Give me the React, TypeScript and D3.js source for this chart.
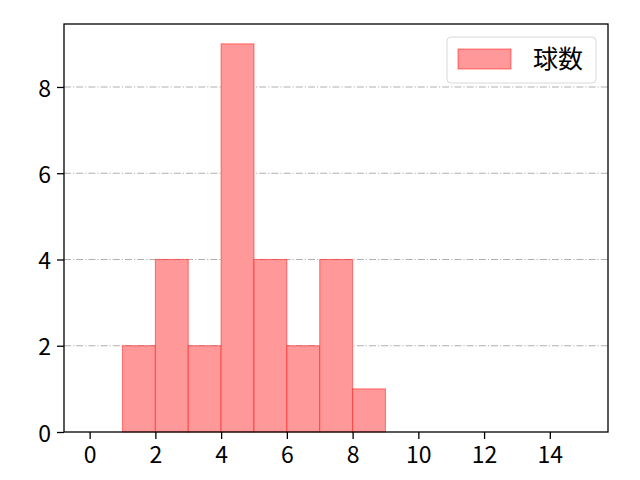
import { useEffect, useRef } from 'react';
import * as d3 from 'd3';

// histogram bins (left edge, right edge) and counts
const binStarts = [1, 2, 3, 4, 5, 6, 7, 8];
const binEnds   = [2, 3, 4, 5, 6, 7, 8, 9];
const counts    = [2, 4, 2, 9, 4, 2, 4, 1];
const xTicks = [0, 2, 4, 6, 8, 10, 12, 14];
const yTicks = [0, 2, 4, 6, 8];
const seriesName = '球数';

const FONT = '"Noto Sans CJK JP", "DejaVu Sans", sans-serif';

export default function App() {
  const svgRef = useRef<SVGSVGElement>(null);

  useEffect(() => {
    if (!svgRef.current) return;
    const svg = d3.select(svgRef.current);
    svg.selectAll('*').remove();

    const W = 640, H = 480;
    const margin = { top: 24, right: 32, bottom: 48, left: 64 };
    const width = W - margin.left - margin.right;
    const height = H - margin.top - margin.bottom;

    const g = svg.append('g').attr('transform', `translate(${margin.left},${margin.top})`);

    const x = d3.scaleLinear().domain([-0.78, 15.77]).range([0, width]);
    const y = d3.scaleLinear().domain([0, 9.46]).range([height, 0]);

    // ── Grid ────────────────────────────────────────────────
    g.append('g')
      .selectAll('line')
      .data(yTicks.filter(t => t > 0))
      .join('line')
      .attr('x1', 0).attr('x2', width)
      .attr('y1', d => y(d)).attr('y2', d => y(d))
      .attr('stroke', '#b0b0b0').attr('stroke-width', 1.1)
      .attr('stroke-dasharray', '7,2,1.2,2');

    // ── Bars ────────────────────────────────────────────────
    g.append('g')
      .selectAll('rect')
      .data(counts)
      .join('rect')
      .attr('x', (_, i) => x(binStarts[i]))
      .attr('width', (_, i) => x(binEnds[i]) - x(binStarts[i]))
      .attr('y', d => y(d))
      .attr('height', d => height - y(d))
      .attr('fill', '#ff9999')
      .attr('stroke', 'rgba(255,0,0,0.45)')
      .attr('stroke-width', 1.1);

    // ── Axes ────────────────────────────────────────────────
    g.append('g')
      .attr('transform', `translate(0,${height})`)
      .call(d3.axisBottom(x).tickValues(xTicks).tickFormat(d3.format('d')).tickSizeOuter(0).tickSize(7))
      .call(a => a.select('.domain').remove())
      .call(a => a.selectAll('line').attr('stroke', '#000').attr('stroke-width', 1.3))
      .call(a => a.selectAll('text').attr('fill', '#000').attr('font-size', '23px')
        .attr('font-family', FONT).attr('y', 31).attr('dy', 0));

    g.append('g')
      .call(d3.axisLeft(y).tickValues(yTicks).tickFormat(d3.format('d')).tickSizeOuter(0).tickSize(7).tickPadding(6))
      .call(a => a.select('.domain').remove())
      .call(a => a.selectAll('line').attr('stroke', '#000').attr('stroke-width', 1.3))
      .call(a => a.selectAll('text').attr('fill', '#000').attr('font-size', '23px')
        .attr('font-family', FONT).attr('dy', '0.4em'));

    // frame
    g.append('rect')
      .attr('width', width).attr('height', height)
      .attr('fill', 'none').attr('stroke', '#000').attr('stroke-width', 1.3);

    // ── Legend ──────────────────────────────────────────────
    const leg = g.append('g').attr('transform', `translate(${447 - margin.left},${37 - margin.top})`);
    leg.append('rect')
      .attr('width', 149).attr('height', 46).attr('rx', 4)
      .attr('fill', 'rgba(255,255,255,0.8)').attr('stroke', '#d9d9d9').attr('stroke-width', 1);
    leg.append('rect')
      .attr('x', 11).attr('y', 12).attr('width', 53).attr('height', 20)
      .attr('fill', '#ff9999').attr('stroke', 'rgba(255,0,0,0.45)').attr('stroke-width', 1.1);
    leg.append('text')
      .attr('x', 86).attr('y', 31)
      .attr('font-family', FONT).attr('font-size', '25px').attr('fill', '#000')
      .text(seriesName);
  }, []);

  return (
    <svg ref={svgRef} width={640} height={480}
      style={{ display: 'block', position: 'absolute', left: 0, top: 0, background: '#fff' }} />
  );
}
